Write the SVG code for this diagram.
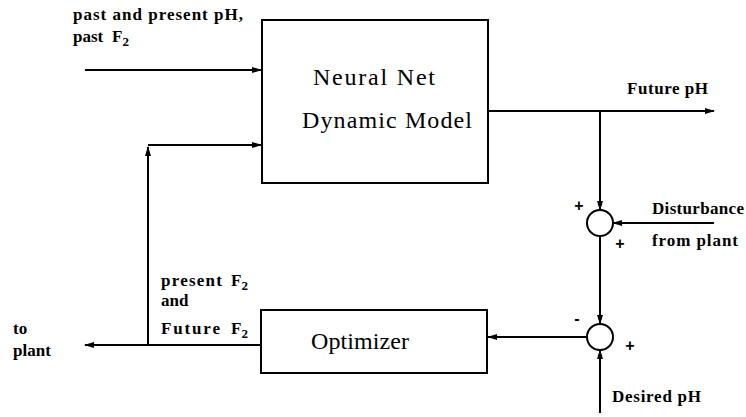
<svg xmlns="http://www.w3.org/2000/svg" width="746" height="417" viewBox="0 0 746 417">
<style>
.box{fill:#fff;stroke:#000;stroke-width:2}
.ln{fill:none;stroke:#000;stroke-width:2}
.big{font-family:"Liberation Serif","Times New Roman",serif;font-size:24px;fill:#000}
.lab{font-family:"Liberation Serif","Times New Roman",serif;font-size:17px;font-weight:bold;fill:#000}
.sgn{font-family:"Liberation Sans",Arial,sans-serif;font-size:16px;font-weight:bold;fill:#000}
.sub{font-size:13px}
</style>
<defs>
<marker id="ah" markerWidth="10" markerHeight="8" refX="9" refY="4" orient="auto" markerUnits="userSpaceOnUse">
<path d="M0,1 L10,4 L0,7 Z" fill="#000"/>
</marker>
</defs>
<rect width="746" height="417" fill="#fff"/>
<g id="connectors">
<line class="ln" x1="85" y1="70" x2="261" y2="70" marker-end="url(#ah)"/>
<line class="ln" x1="148" y1="345" x2="148" y2="147" marker-end="url(#ah)"/>
<line class="ln" x1="148" y1="145" x2="261" y2="145" marker-end="url(#ah)"/>
<line class="ln" x1="488" y1="111" x2="714" y2="111" marker-end="url(#ah)"/>
<line class="ln" x1="600" y1="111" x2="600" y2="210" marker-end="url(#ah)"/>
<line class="ln" x1="714" y1="223" x2="613" y2="223" marker-end="url(#ah)"/>
<line class="ln" x1="600" y1="236" x2="600" y2="324" marker-end="url(#ah)"/>
<line class="ln" x1="587" y1="337" x2="488" y2="337" marker-end="url(#ah)"/>
<line class="ln" x1="600" y1="413" x2="600" y2="350" marker-end="url(#ah)"/>
<line class="ln" x1="261" y1="345" x2="85" y2="345" marker-end="url(#ah)"/>
</g>
<g id="neural-net">
<rect class="box" x="262" y="20" width="226" height="163"/>
<text class="big" x="313" y="85" textLength="122" lengthAdjust="spacing">Neural  Net</text>
<text class="big" x="302" y="128" textLength="170" lengthAdjust="spacing">Dynamic  Model</text>
</g>
<g id="optimizer">
<rect class="box" x="261" y="310" width="226" height="63"/>
<text class="big" x="311" y="349" textLength="98" lengthAdjust="spacing">Optimizer</text>
</g>
<g id="sum1">
<circle class="ln" cx="600" cy="223" r="13"/>
<text class="sgn" x="579" y="211" text-anchor="middle">+</text>
<text class="sgn" x="620" y="249" text-anchor="middle">+</text>
</g>
<g id="sum2">
<circle class="ln" cx="600" cy="337" r="13"/>
<text class="sgn" x="577" y="324" text-anchor="middle">-</text>
<text class="sgn" x="630" y="351" text-anchor="middle">+</text>
</g>
<g id="labels">
<text class="lab" x="73" y="20" textLength="170" lengthAdjust="spacing">past and present pH,</text>
<text class="lab" x="73" y="42">past</text>
<text class="lab" x="112" y="42">F<tspan class="sub" dy="4">2</tspan></text>
<text class="lab" x="627" y="94" textLength="81" lengthAdjust="spacing">Future pH</text>
<text class="lab" x="652" y="214" textLength="92" lengthAdjust="spacing">Disturbance</text>
<text class="lab" x="652" y="246" textLength="86" lengthAdjust="spacing">from plant</text>
<text class="lab" x="612" y="402" textLength="89" lengthAdjust="spacing">Desired pH</text>
<text class="lab" x="161" y="286" textLength="61" lengthAdjust="spacing">present</text>
<text class="lab" x="231" y="286">F<tspan class="sub" dy="4">2</tspan></text>
<text class="lab" x="161" y="306">and</text>
<text class="lab" x="161" y="334" textLength="59" lengthAdjust="spacing">Future</text>
<text class="lab" x="231" y="334">F<tspan class="sub" dy="4">2</tspan></text>
<text class="lab" x="13" y="334" font-size="16">to</text>
<text class="lab" x="13" y="356" font-size="16">plant</text>
</g>
</svg>
